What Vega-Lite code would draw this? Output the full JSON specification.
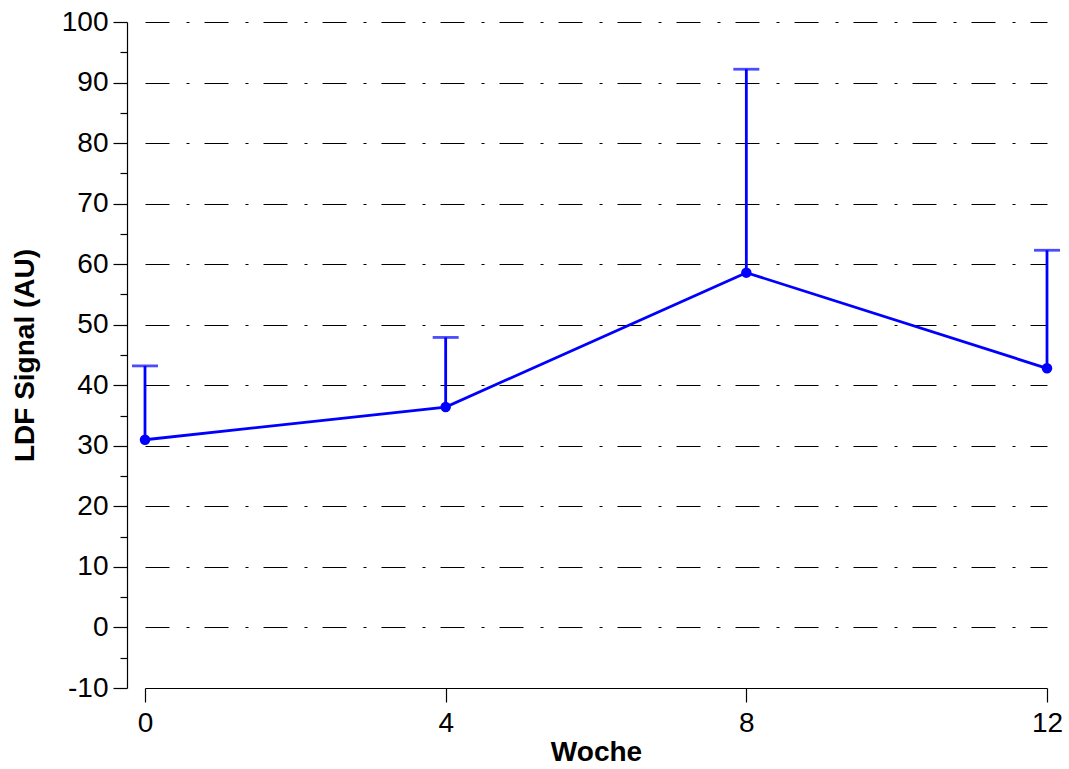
{
  "$schema": "https://vega.github.io/schema/vega-lite/v6.json",
  "width": 902,
  "height": 666,
  "autosize": {"type": "none"},
  "padding": {"left": 145, "top": 22, "right": 22, "bottom": 81},
  "background": "white",
  "config": {
    "view": {"stroke": null},
    "axis": {
      "labelFont": "Liberation Sans",
      "titleFont": "Liberation Sans",
      "labelFontSize": 28,
      "titleFontSize": 28,
      "titleFontWeight": "bold",
      "labelColor": "#000",
      "titleColor": "#000",
      "domainColor": "#000",
      "tickColor": "#000",
      "domainWidth": 1.2,
      "tickWidth": 1.2
    }
  },
  "data": {
    "values": [
      {"Woche": 0, "mean": 31.0, "upper": 43.2},
      {"Woche": 4, "mean": 36.4, "upper": 47.9},
      {"Woche": 8, "mean": 58.6, "upper": 92.2},
      {"Woche": 12, "mean": 42.8, "upper": 62.3}
    ]
  },
  "resolve": {"axis": {"y": "independent"}},
  "layer": [
    {
      "mark": {"type": "line", "color": "#0000ff", "strokeWidth": 2.8},
      "encoding": {
        "x": {
          "field": "Woche",
          "type": "quantitative",
          "scale": {"domain": [0, 12], "nice": false, "zero": false},
          "axis": {
            "title": "Woche",
            "values": [0, 4, 8, 12],
            "labelExpr": "toString(datum.value)",
            "grid": false,
            "tickSize": 14,
            "labelPadding": 7,
            "titlePadding": 1,
            "labelFlush": false
          }
        },
        "y": {
          "field": "mean",
          "type": "quantitative",
          "scale": {"domain": [-10, 100], "nice": false, "zero": false},
          "axis": {
            "title": "LDF Signal (AU)",
            "orient": "left",
            "offset": 18,
            "values": [-10, 0, 10, 20, 30, 40, 50, 60, 70, 80, 90, 100],
            "labelExpr": "toString(datum.value)",
            "tickSize": 14,
            "grid": true,
            "gridColor": "#000",
            "gridWidth": 1,
            "gridDash": [24, 17, 3, 15],
            "gridOpacity": {"condition": {"test": "datum.value === -10", "value": 0}, "value": 1},
            "labelPadding": 5,
            "labelFlush": false,
            "titlePadding": 22
          }
        }
      }
    },
    {
      "mark": {"type": "rule", "color": "#0000ff", "strokeWidth": 2.8},
      "encoding": {
        "x": {"field": "Woche", "type": "quantitative"},
        "y": {
          "field": "mean",
          "type": "quantitative",
          "axis": {
            "title": null,
            "orient": "left",
            "offset": 18,
            "values": [-5, 5, 15, 25, 35, 45, 55, 65, 75, 85, 95],
            "labels": false,
            "domain": false,
            "grid": false,
            "tickSize": 7
          }
        },
        "y2": {"field": "upper"}
      }
    },
    {
      "mark": {"type": "tick", "color": "#0000ff", "orient": "horizontal", "size": 26, "thickness": 2.8},
      "encoding": {
        "x": {"field": "Woche", "type": "quantitative"},
        "y": {"field": "upper", "type": "quantitative", "axis": null}
      }
    },
    {
      "mark": {"type": "point", "filled": true, "color": "#0000ff", "size": 110, "opacity": 1},
      "encoding": {
        "x": {"field": "Woche", "type": "quantitative"},
        "y": {"field": "mean", "type": "quantitative", "axis": null}
      }
    }
  ]
}
